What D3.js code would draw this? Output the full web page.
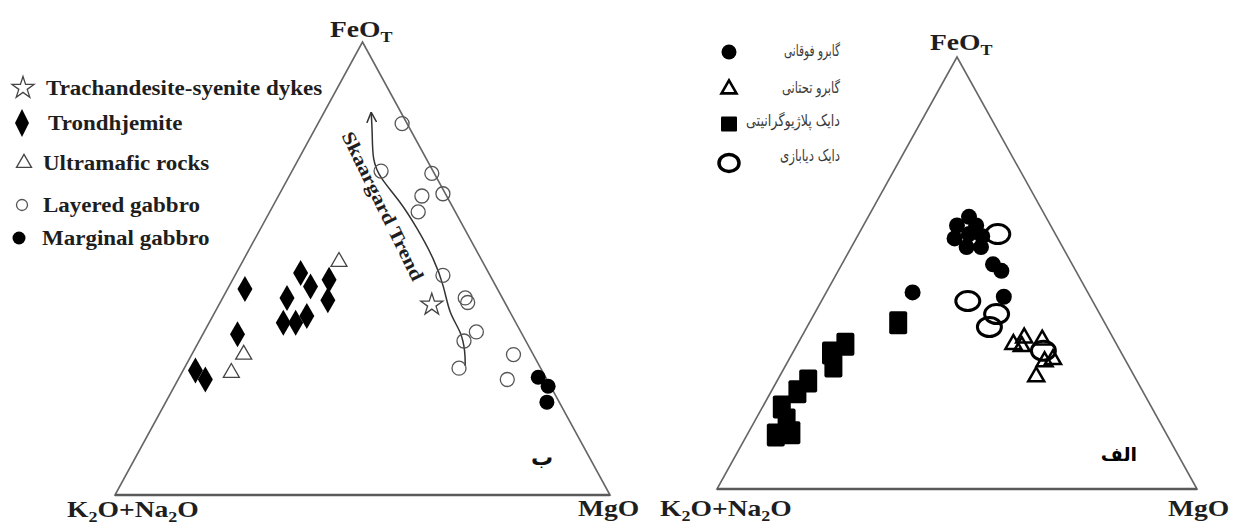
<!DOCTYPE html>
<html><head><meta charset="utf-8">
<script src="https://cdn.jsdelivr.net/npm/d3@7"></script>
<style>body{margin:0;background:#fff}</style>
</head><body>
<svg id="chart" width="1239" height="527"></svg>
<script>
// ---------- DATA: [FeOT, MgO, K2O+Na2O] in % ----------
const leftLayeredGabbro = [[82,17,1],[71.5,18,10.5],[71,28.5,0.5],[66,29,5],[62.5,30,7.5],[66.5,33,0.5],[48.5,42,9.5],[43.5,49,7.5],[42.5,50,7.5],[36,55,9],[34,53.5,12.5],[28,55.5,16.5],[31,65,4],[25.5,66.5,8]];
const leftMarginalGabbro = [[26,72.5,1.5],[24,75.5,0.5],[20.5,77,2.5]];
const leftDykes = [[42,43,15]];
const leftTrondhjemite = [[45.5,3.5,51],[35.5,7,57.5],[27.5,2.5,70],[25.5,5.5,69],[49,13,38],[46,16.5,37.5],[43.5,13,43.5],[38,15,47],[38,17.5,44.5],[39.5,19,41.5],[47.5,19.5,33],[43,21.5,35.5]];
const leftUltramafic = [[51.5,19.5,29],[31,10.5,58.5],[27,10,63]];
const skaergaardTrend = [[84.5,9.5],[80,12],[74,15],[70,18.5],[65,25],[59,31.5],[52,38.5],[46,43.5],[40,47.5],[36,52],[31.5,55],[28.5,56.5]];

const rightUpperGabbro = [[63,21,16],[61,19.5,19.5],[61,23.5,15.5],[58,20.5,21.5],[59,23,18],[58.5,26,15.5],[56,24,20],[56,27,17],[52,31.5,16.5],[50.5,34,15.5],[44.5,37.5,18],[45.5,18,36.5]];
const rightLowerGabbro = [[33.5,45,21.5],[35,46.5,18.5],[33,47,20],[34.5,50.5,15],[30,55,15],[29.5,53.5,17],[26,53.5,20.5]];
const rightPlagiograniteDyke = [[38.5,18.5,43],[33.5,10,56.5],[31.5,8,60.5],[28.5,10,61.5],[25,6.5,68.5],[22.5,5.5,72],[19,4,77],[16,6.5,77.5],[12.5,6,81.5],[13,9,78]];
const rightDiabaseDyke = [[59,29,12],[43.5,30.5,26],[40.5,38,21.5],[37.5,38,24.5],[32,52,16]];

const leftLegendLabels = ["Trachandesite-syenite dykes","Trondhjemite","Ultramafic rocks","Layered gabbro","Marginal gabbro"];
const rightLegendLabels = ["گابرو فوقانی","گابرو تحتانی","دایک پلاژیوگرانیتی","دایک دیابازی"];
const panelTags = ["ب","الف"];
const trendLabel = "Skaargard Trend";

// ---------- LAYOUT ----------
const svg = d3.select("#chart");
const serif = "'Liberation Serif','Times New Roman',serif";
const persian = "'DejaVu Sans',sans-serif";
const ink = "#1e1e1e";

const panels = [
  {sx: d3.scaleLinear().domain([0,100]).range([115,610]), sy: d3.scaleLinear().domain([0,100]).range([495,42])},
  {sx: d3.scaleLinear().domain([0,100]).range([717,1197]), sy: d3.scaleLinear().domain([0,100]).range([489,57])}
];
function proj(p, pn){ return [pn.sx(p[1] + p[0]/2), pn.sy(p[0])]; }

// arrow marker
svg.append("defs").append("marker")
  .attr("id","arr").attr("viewBox","0 0 10 10").attr("refX",9.5).attr("refY",5)
  .attr("markerWidth",11).attr("markerHeight",11).attr("markerUnits","userSpaceOnUse")
  .attr("orient","auto-start-reverse")
  .append("path").attr("d","M0,0.5 L9.5,5 L0,9.5").attr("fill","none").attr("stroke","#333").attr("stroke-width",1.4);

// triangle frames
panels.forEach(pn=>{
  const verts = [[100,0,0],[0,100,0],[0,0,100]].map(p=>proj(p,pn));
  svg.append("path").attr("d", d3.line()(verts)+"Z")
    .attr("fill","none").attr("stroke","#666").attr("stroke-width",1.6);
  svg.append("line").attr("x1",verts[2][0]).attr("y1",verts[2][1]).attr("x2",verts[1][0]).attr("y2",verts[1][1])
    .attr("stroke","#5a5a5a").attr("stroke-width",2.3);
});

// axis labels
function label(x, y, parts, sx){
  const t = svg.append("text").attr("transform",`translate(${x},${y}) scale(${sx},1)`)
    .attr("font-family",serif).attr("font-weight","bold").attr("font-size",23).attr("fill",ink);
  parts.forEach(([s,sub])=>{
    const ts = t.append("tspan").text(s);
    if(sub) ts.attr("font-size",15).attr("baseline-shift","-28%");
  });
}
const feo = [["FeO",false],["T",true]];
const alk = [["K",false],["2",true],["O+Na",false],["2",true],["O",false]];
const mgo = [["MgO",false]];
label(330,37,feo,1.2); label(930,50,feo,1.2);
label(67,517,alk,1.2); label(660,516,alk,1.2);
label(578,516,mgo,1.2); label(1168,516,mgo,1.2);

// panel tags
svg.append("text").attr("x",542).attr("y",465).attr("text-anchor","middle").attr("font-family",persian).attr("font-weight","bold").attr("font-size",22).attr("fill","#111").text(panelTags[0]);
svg.append("text").attr("x",1119).attr("y",461).attr("text-anchor","middle").attr("font-family",persian).attr("font-weight","bold").attr("font-size",19).attr("fill","#000").text(panelTags[1]);

// ---------- LEFT PANEL ----------
const L = panels[0];
const diamond = (w,h)=>`M0,${-h}L${w},0L0,${h}L${-w},0Z`;
const tri = s=>{const h=s*Math.sqrt(3)/2; return `M0,${-2*h/3}L${s/2},${h/3}L${-s/2},${h/3}Z`;};

svg.append("path").datum(skaergaardTrend.map(p=>proj(p,L)))
  .attr("d", d3.line().curve(d3.curveBasis))
  .attr("fill","none").attr("stroke","#333").attr("stroke-width",1.5).attr("marker-start","url(#arr)");

svg.append("text").attr("transform","translate(381,207) rotate(64) scale(1.17,1)")
  .attr("text-anchor","middle").attr("dominant-baseline","middle")
  .attr("font-family",serif).attr("font-weight","bold").attr("font-size",19).attr("fill",ink).text(trendLabel);

svg.append("g").selectAll("circle").data(leftLayeredGabbro).join("circle")
  .attr("cx",d=>proj(d,L)[0]).attr("cy",d=>proj(d,L)[1]).attr("r",7)
  .attr("fill","none").attr("stroke","#555").attr("stroke-width",1.3);
svg.append("g").selectAll("circle").data(leftMarginalGabbro).join("circle")
  .attr("cx",d=>proj(d,L)[0]).attr("cy",d=>proj(d,L)[1]).attr("r",7.5).attr("fill","#000");
svg.append("g").selectAll("path").data(leftTrondhjemite).join("path")
  .attr("transform",d=>`translate(${proj(d,L)})`).attr("d",diamond(7.5,13)).attr("fill","#000");
svg.append("g").selectAll("path").data(leftUltramafic).join("path")
  .attr("transform",d=>`translate(${proj(d,L)})`).attr("d",tri(16)).attr("fill","#fff").attr("stroke","#444").attr("stroke-width",1.3);
svg.append("g").selectAll("path").data(leftDykes).join("path")
  .attr("transform",d=>`translate(${proj(d,L)})`).attr("d",d3.symbol(d3.symbolStar, 150)()).attr("fill","#fff").attr("stroke","#444").attr("stroke-width",1.3);

// left legend
const llY = [88,123,163,205,238];
const llX = [46,48,43,43,42];
leftLegendLabels.forEach((s,i)=>{
  svg.append("text").attr("transform",`translate(${llX[i]},${llY[i]+7}) scale(1.15,1)`)
    .attr("font-family",serif).attr("font-weight","bold").attr("font-size",20).attr("fill",ink).text(s);
});
svg.append("path").attr("transform",`translate(23,${llY[0]})`).attr("d",d3.symbol(d3.symbolStar,150)()).attr("fill","#fff").attr("stroke","#444").attr("stroke-width",1.3);
svg.append("path").attr("transform",`translate(22,${llY[1]})`).attr("d",diamond(7,14)).attr("fill","#000");
svg.append("path").attr("transform",`translate(24,${llY[2]})`).attr("d",tri(15)).attr("fill","#fff").attr("stroke","#444").attr("stroke-width",1.3);
svg.append("circle").attr("cx",22).attr("cy",llY[3]).attr("r",5.5).attr("fill","none").attr("stroke","#555").attr("stroke-width",1.3);
svg.append("circle").attr("cx",19).attr("cy",llY[4]).attr("r",6.5).attr("fill","#000");

// ---------- RIGHT PANEL ----------
const R = panels[1];
svg.append("g").selectAll("rect").data(rightPlagiograniteDyke).join("rect")
  .attr("x",d=>proj(d,R)[0]-9).attr("y",d=>proj(d,R)[1]-11.5).attr("width",18).attr("height",23).attr("rx",2).attr("fill","#000");
svg.append("g").selectAll("circle").data(rightUpperGabbro).join("circle")
  .attr("cx",d=>proj(d,R)[0]).attr("cy",d=>proj(d,R)[1]).attr("r",8).attr("fill","#000");
svg.append("g").selectAll("path").data(rightLowerGabbro).join("path")
  .attr("transform",d=>`translate(${proj(d,R)})`).attr("d",tri(16)).attr("fill","none").attr("stroke","#000").attr("stroke-width",2.5);
svg.append("g").selectAll("ellipse").data(rightDiabaseDyke).join("ellipse")
  .attr("cx",d=>proj(d,R)[0]).attr("cy",d=>proj(d,R)[1]).attr("rx",12).attr("ry",9.5)
  .attr("fill","none").attr("stroke","#000").attr("stroke-width",3);

// right legend
const rlY = [52,88,124,163];
const rlTextY = [56,93,126,161];
const rlW = [56,58,94,60];
rightLegendLabels.forEach((s,i)=>{
  svg.append("text").attr("x",840).attr("y",rlTextY[i]).attr("text-anchor","end")
    .attr("font-family",persian).attr("font-size",16).attr("fill","#3a3a3a")
    .attr("textLength",rlW[i]).attr("lengthAdjust","spacingAndGlyphs").text(s);
});
svg.append("circle").attr("cx",729).attr("cy",rlY[0]).attr("r",7.5).attr("fill","#000");
svg.append("path").attr("transform",`translate(729,${rlY[1]+1})`).attr("d",tri(15)).attr("fill","none").attr("stroke","#000").attr("stroke-width",2.6);
svg.append("rect").attr("x",721).attr("y",rlY[2]-7.5).attr("width",16).attr("height",15).attr("rx",1).attr("fill","#000");
svg.append("ellipse").attr("cx",729).attr("cy",rlY[3]).attr("rx",10).attr("ry",8.5).attr("fill","none").attr("stroke","#000").attr("stroke-width",3.5);
</script>
</body></html>
